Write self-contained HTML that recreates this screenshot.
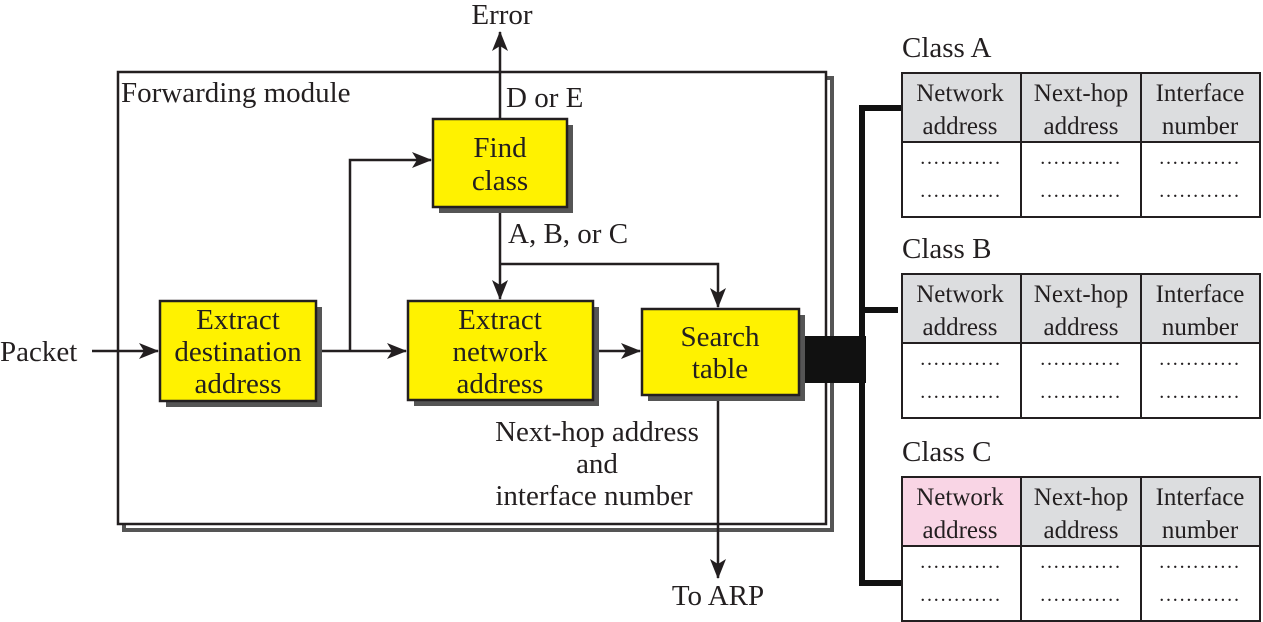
<!DOCTYPE html>
<html><head><meta charset="utf-8"><style>
html,body{margin:0;padding:0;background:#fff;}
svg{display:block;}
text{font-family:"Liberation Serif",serif;font-size:29px;fill:#231f20;}
.t{font-size:25px;}
.d{font-size:20px;letter-spacing:1.8px;}
</style></head><body>
<svg width="1263" height="622" viewBox="0 0 1263 622" xmlns="http://www.w3.org/2000/svg">
<defs>
<marker id="ah" markerWidth="20" markerHeight="16" refX="19" refY="8" orient="auto" markerUnits="userSpaceOnUse">
<path d="M0,0 L20,8 L0,16 L5,8 Z" fill="#231f20"/>
</marker>
</defs>
<rect x="124" y="78" width="708" height="452" fill="none" stroke="#555" stroke-width="4"/>
<rect x="118" y="72" width="708" height="452" fill="#fff" stroke="#231f20" stroke-width="2.5"/>
<text x="121" y="102">Forwarding module</text>

<rect x="800" y="336" width="66" height="47" fill="#111"/>
<path d="M902,108 H862 V583 H902" fill="none" stroke="#111" stroke-width="6"/>
<line x1="862" y1="310" x2="898" y2="310" stroke="#111" stroke-width="6"/>

<g stroke="#231f20" stroke-width="2.5" fill="none">
<line x1="92" y1="351" x2="158" y2="351" marker-end="url(#ah)"/>
<line x1="316" y1="351" x2="406" y2="351" marker-end="url(#ah)"/>
<polyline points="350,351 350,160 431,160" marker-end="url(#ah)"/>
<line x1="500" y1="207" x2="500" y2="299" marker-end="url(#ah)"/>
<polyline points="500,264 718,264 718,307" marker-end="url(#ah)"/>
<line x1="593" y1="351" x2="640" y2="351" marker-end="url(#ah)"/>
<line x1="718" y1="395" x2="718" y2="578" marker-end="url(#ah)"/>
<line x1="500" y1="119" x2="500" y2="32" marker-end="url(#ah)"/>
</g>

<g stroke="#231f20" stroke-width="2.5">
<rect x="166" y="307" width="156" height="100" fill="#555" stroke="none"/>
<rect x="160" y="301" width="156" height="100" fill="#fff200"/>
<rect x="439" y="125" width="134" height="88" fill="#555" stroke="none"/>
<rect x="433" y="119" width="134" height="88" fill="#fff200"/>
<rect x="414" y="307" width="185" height="99" fill="#555" stroke="none"/>
<rect x="408" y="301" width="185" height="99" fill="#fff200"/>
<rect x="648" y="315" width="157" height="86" fill="#555" stroke="none"/>
<rect x="642" y="309" width="157" height="86" fill="#fff200"/>
</g>
<g text-anchor="middle">
<text x="238" y="329">Extract</text>
<text x="238" y="361">destination</text>
<text x="238" y="393">address</text>
<text x="500" y="157">Find</text>
<text x="500" y="190">class</text>
<text x="500" y="329">Extract</text>
<text x="500" y="361">network</text>
<text x="500" y="393">address</text>
<text x="720" y="346">Search</text>
<text x="720" y="378">table</text>
<text x="597" y="441">Next-hop address</text>
<text x="597" y="473">and</text>
<text x="594" y="505">interface number</text>
<text x="718" y="605">To ARP</text>
<text x="502" y="24">Error</text>
</g>
<text x="0" y="361">Packet</text>
<text x="506" y="107">D or E</text>
<text x="508" y="243">A, B, or C</text>

<g>
<text x="902" y="57">Class A</text>
<rect x="902" y="73" width="358" height="69" fill="#dcdddf"/>
<rect x="902" y="73" width="358" height="144" fill="none" stroke="#231f20" stroke-width="2"/>
<g stroke="#231f20" stroke-width="2"><line x1="902" y1="142" x2="1260" y2="142"/><line x1="1021" y1="73" x2="1021" y2="217"/><line x1="1141" y1="73" x2="1141" y2="217"/></g>
<g text-anchor="middle" class="t">
<text class="t" x="960" y="101">Network</text><text class="t" x="960" y="134">address</text>
<text class="t" x="1081" y="101">Next-hop</text><text class="t" x="1081" y="134">address</text>
<text class="t" x="1200" y="101">Interface</text><text class="t" x="1200" y="134">number</text>
<text class="d" x="961" y="164">............</text><text class="d" x="961" y="197">............</text>
<text class="d" x="1081" y="164">............</text><text class="d" x="1081" y="197">............</text>
<text class="d" x="1200" y="164">............</text><text class="d" x="1200" y="197">............</text>
</g>
</g>
<g>
<text x="902" y="258">Class B</text>
<rect x="902" y="274" width="358" height="69" fill="#dcdddf"/>
<rect x="902" y="274" width="358" height="144" fill="none" stroke="#231f20" stroke-width="2"/>
<g stroke="#231f20" stroke-width="2"><line x1="902" y1="343" x2="1260" y2="343"/><line x1="1021" y1="274" x2="1021" y2="418"/><line x1="1141" y1="274" x2="1141" y2="418"/></g>
<g text-anchor="middle">
<text class="t" x="960" y="302">Network</text><text class="t" x="960" y="335">address</text>
<text class="t" x="1081" y="302">Next-hop</text><text class="t" x="1081" y="335">address</text>
<text class="t" x="1200" y="302">Interface</text><text class="t" x="1200" y="335">number</text>
<text class="d" x="961" y="365">............</text><text class="d" x="961" y="398">............</text>
<text class="d" x="1081" y="365">............</text><text class="d" x="1081" y="398">............</text>
<text class="d" x="1200" y="365">............</text><text class="d" x="1200" y="398">............</text>
</g>
</g>
<g>
<text x="902" y="461">Class C</text>
<rect x="902" y="477" width="358" height="69" fill="#dcdddf"/>
<rect x="902" y="477" width="119" height="69" fill="#f9d5e5"/>
<rect x="902" y="477" width="358" height="144" fill="none" stroke="#231f20" stroke-width="2"/>
<g stroke="#231f20" stroke-width="2"><line x1="902" y1="546" x2="1260" y2="546"/><line x1="1021" y1="477" x2="1021" y2="621"/><line x1="1141" y1="477" x2="1141" y2="621"/></g>
<g text-anchor="middle">
<text class="t" x="960" y="505">Network</text><text class="t" x="960" y="538">address</text>
<text class="t" x="1081" y="505">Next-hop</text><text class="t" x="1081" y="538">address</text>
<text class="t" x="1200" y="505">Interface</text><text class="t" x="1200" y="538">number</text>
<text class="d" x="961" y="568">............</text><text class="d" x="961" y="601">............</text>
<text class="d" x="1081" y="568">............</text><text class="d" x="1081" y="601">............</text>
<text class="d" x="1200" y="568">............</text><text class="d" x="1200" y="601">............</text>
</g>
</g>
</svg>
</body></html>
